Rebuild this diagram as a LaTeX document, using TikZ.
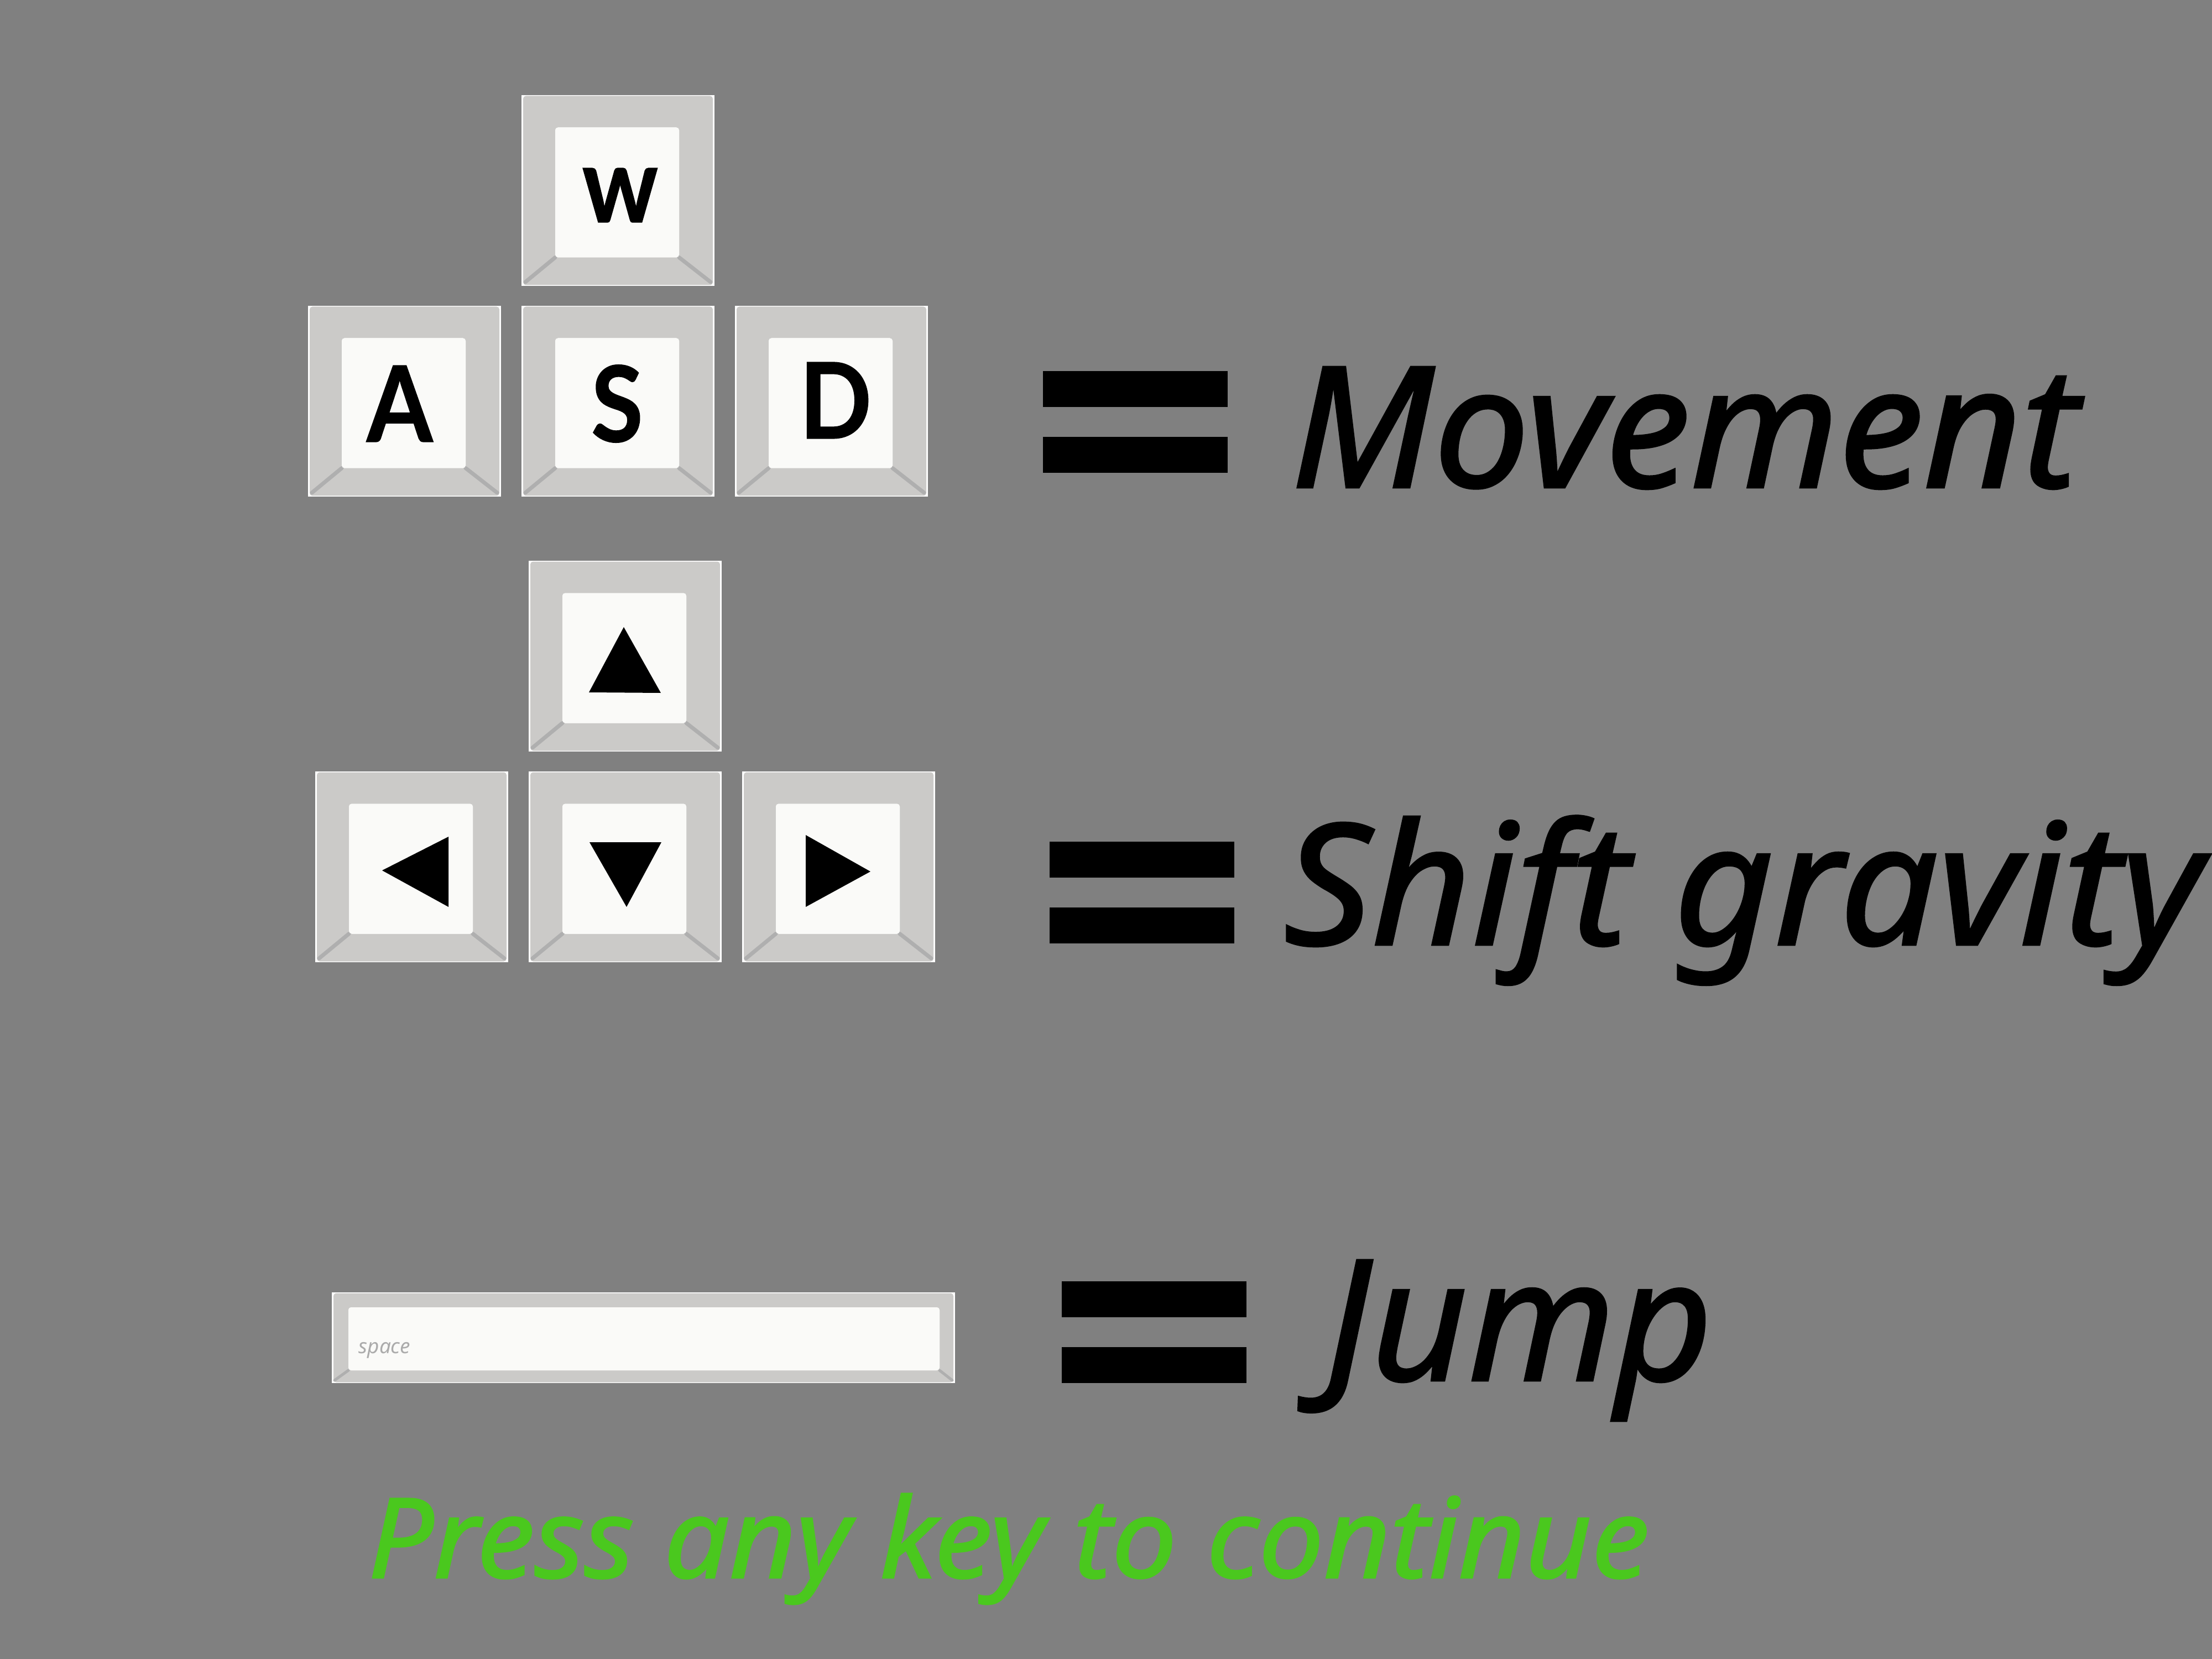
\documentclass[tikz,border=0pt]{standalone}
\usepackage{fontspec}
\setmainfont{Noto Sans}
\newfontfamily\wordfont{Noto Sans}[FakeBold=1.5]
\newfontfamily\letterfont{Lato}[FakeBold=1]
\usepackage{tikz}
\usetikzlibrary{positioning}
\definecolor{bggray}{HTML}{808080}
\definecolor{capgray}{HTML}{CBCAC8}
\definecolor{topwhite}{HTML}{FAFAF8}
\definecolor{creasegray}{HTML}{AFAFAF}
\definecolor{spacegray}{HTML}{ABABAB}
\definecolor{contgreen}{HTML}{4AC81E}

\begin{document}
\begin{tikzpicture}[%
    y=-1cm,
    node distance=0.36cm,
    keybase/.style={rectangle, draw=none, fill=white, outer sep=0, inner sep=0,
      minimum width=3.49cm, minimum height=3.45cm},
    keycap/.style={keybase, fill=capgray, rounded corners=0.05cm,
      minimum width=3.43cm, minimum height=3.42cm},
    keytop/.style={rectangle, fill=topwhite, rounded corners=0.05cm, outer sep=0, inner sep=0,
      minimum width=2.24cm, minimum height=2.35cm},
    crease/.style={creasegray, line width=0.07cm, line cap=round},
    keyletter/.style={font=\letterfont\bfseries\fontsize{54}{54}\selectfont, inner sep=0, xscale=0.9},
    equalbar/.style={rectangle, fill=black, outer sep=0, inner sep=0,
      minimum width=3.34cm, minimum height=0.65cm},
    bigword/.style={anchor=base west, inner sep=0, font=\wordfont\itshape\fontsize{86.5}{86.5}\selectfont}
  ]
    \fill[bggray] (0,0) rectangle (40,30);
    \useasboundingbox (0,0) rectangle (40,30);

    % wasd keys
    \node[keybase] (w) at (11.175,3.445) {};
    \node[keybase, below=of w] (s) {};
    \node[keybase, left=0.37cm of s] (a) {};
    \node[keybase, right=0.37cm of s] (d) {};

    % arrow keys
    \node[keybase] (up) at (11.305,11.865) {};
    \node[keybase, below=of up] (down) {};
    \node[keybase, left=0.37cm of down] (left) {};
    \node[keybase, right=0.37cm of down] (right) {};

    \foreach \k/\t/\dx/\dy in {w/w/0.06/0.05, a/A/-0.08/0.01, s/S/0/0.01, d/D/0.10/-0.05,
        up//0/0, left//0/0, down//0/0, right//0/0} {
      \node[keycap] (\k cap) at (\k) {};
      \node[keytop, yshift=-0.035cm, xshift=-0.015cm] (\k top) at (\k) {};
      \draw[crease] ([shift={(0.07,-0.07)}]\k.south west) -- (\k top.south west);
      \draw[crease] ([shift={(-0.07,-0.07)}]\k.south east) -- (\k top.south east);
      \node[keytop, yshift=-0.035cm, xshift=-0.015cm] (\k face) at (\k) {};
      \node[keyletter, xshift=\dx cm, yshift=-\dy cm] (\k txt) at (\k top) {\t};
    }

    % arrow heads
    \fill (11.28,11.34) -- (10.65,12.52) -- (11.95,12.53) -- cycle;
    \fill (6.91,15.74) -- (8.11,15.13) -- (8.11,16.40) -- cycle;
    \fill (10.66,15.23) -- (11.96,15.23) -- (11.33,16.40) -- cycle;
    \fill (14.57,15.10) -- (14.57,16.40) -- (15.74,15.76) -- cycle;

    % space key
    \node[keybase, minimum width=11.27cm, minimum height=1.64cm] (space) at (11.635,24.19) {};
    \node[keycap, minimum width=11.21cm, minimum height=1.61cm] (spacecap) at (space) {};
    \node[keytop, minimum width=10.69cm, minimum height=1.14cm] (spacetop) at (11.645,24.21) {};
    \draw[crease, line width=0.05cm] ([shift={(0.05,-0.05)}]space.south west) -- (spacetop.south west);
    \draw[crease, line width=0.05cm] ([shift={(-0.05,-0.05)}]space.south east) -- (spacetop.south east);
    \node[keytop, minimum width=10.69cm, minimum height=1.14cm] (spaceface) at (11.645,24.21) {};
    \node[anchor=base west, inner sep=0, text=spacegray, font=\itshape\fontsize{10.5}{10.5}\selectfont]
      (spacetxt) at (6.48,24.47) {space};

    % equals signs
    \node[equalbar] (eqa1) at (20.53,7.035) {};
    \node[equalbar, below=0.54cm of eqa1] (eqa2) {};
    \node[equalbar] (eqb1) at (20.65,15.545) {};
    \node[equalbar, below=0.54cm of eqb1] (eqb2) {};
    \node[equalbar] (eqc1) at (20.87,23.495) {};
    \node[equalbar, below=0.54cm of eqc1] (eqc2) {};

    % words
    \node[bigword, xscale=1.01] (move) at (23.34,8.81) {Movement};
    \node[bigword, xscale=1.03] (shift) at (23.21,17.08) {Shift gravity};
    \node[bigword] (jump) at (23.95,24.96) {Jump};
    \node[bigword, xscale=1.04, text=contgreen, font=\wordfont\itshape\fontsize{57}{57}\selectfont] (press) at (6.65,28.53) {Press any key to continue};
\end{tikzpicture}
\end{document}
